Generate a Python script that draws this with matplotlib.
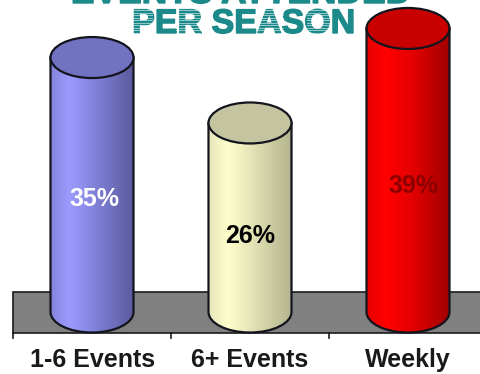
import numpy as np
import matplotlib
matplotlib.use("Agg")
import matplotlib.pyplot as plt
import matplotlib.patheffects as pe
from matplotlib.colors import LinearSegmentedColormap
from matplotlib.patches import Ellipse, PathPatch, Rectangle
from matplotlib.path import Path

# Data
categories = ["1-6 Events", "6+ Events", "Weekly"]
percents = [35, 26, 39]
percent_labels = ["35%", "26%", "39%"]
title_lines = ["EVENTS ATTENDED", "PER SEASON"]

# Styles
side_colors = [
    ["#8484dc", "#9c9cff", "#8080d8", "#5a5a9c"],
    ["#e6e6bc", "#ffffcc", "#e0e0b4", "#b4b48e"],
    ["#e80000", "#ff0000", "#e40000", "#a00000"],
]
top_colors = ["#7272c2", "#c4c4a0", "#c80000"]
label_colors = ["white", "black", "#8c0000"]
label_px = [(94, 199), (250, 236), (413, 186)]
teal = "#1c8a8a"

PX_X = 158.0   # pixels per category
PX_Y = 7.27    # pixels per percent
half_w = 41.5 / PX_X
half_h = 20.5 / PX_Y

fig = plt.figure(figsize=(4.8, 3.74), dpi=100)
ax = fig.add_axes([0, 0, 1, 1])
ax.set_xlim(-92 / PX_X, (480 - 92) / PX_X)
ax.set_ylim(-62 / PX_Y, 312 / PX_Y)
ax.axis("off")

floor_left = -79 / PX_X
floor_right = 3
floor_bottom = -half_h
floor_top = half_h

# grey floor with base axis and ticks
ax.add_patch(Rectangle((floor_left, floor_bottom), floor_right - floor_left, floor_top - floor_bottom,
                       facecolor="#808080", edgecolor="#1a1a1a", lw=1.2, zorder=1))
for x in [floor_left, 0.5, 1.5]:
    ax.plot([x, x], [floor_bottom - 0.8, floor_bottom], color="#1a1a1a", lw=1.2, zorder=1)

# pixel positions of the text, measured from the top left
to_axes = lambda px, py: (px / 480, 1 - py / 374)

# cylinders
for i, val in enumerate(percents):
    x0, x1 = i - half_w, i + half_w
    k = 0.5523
    verts = [(x0, val), (x0, 0),
             (x0, -half_h * k), (i - half_w * k, -half_h), (i, -half_h),
             (i + half_w * k, -half_h), (x1, -half_h * k), (x1, 0),
             (x1, val), (x0, val)]
    codes = [Path.MOVETO, Path.LINETO, Path.CURVE4, Path.CURVE4, Path.CURVE4,
             Path.CURVE4, Path.CURVE4, Path.CURVE4, Path.LINETO, Path.CLOSEPOLY]
    body = PathPatch(Path(verts, codes), facecolor="none", edgecolor="none", zorder=2)
    ax.add_patch(body)
    cmap = LinearSegmentedColormap.from_list(
        "side", list(zip([0, 0.22, 0.55, 1], side_colors[i])))
    im = ax.imshow(np.linspace(0, 1, 128).reshape(1, -1), cmap=cmap, aspect="auto",
                   extent=(x0, x1, -half_h, val), zorder=2)
    im.set_clip_path(body)
    ax.add_patch(PathPatch(Path(verts, codes), facecolor="none", edgecolor="#14141e", lw=1.6, zorder=3))
    ax.add_patch(Ellipse((i, val), 2 * half_w, 2 * half_h, facecolor=top_colors[i],
                         edgecolor="#14141e", lw=1.6, zorder=4))
    ax.text(*to_axes(*label_px[i]), percent_labels[i], transform=ax.transAxes,
            color=label_colors[i], ha="center", va="center", family="Liberation Sans",
            fontweight="bold", fontsize=18, zorder=5)
    ax.text(i + (0.003 if i == 0 else 0), -48 / PX_Y, categories[i], color="#1a1a1a", ha="center", va="center",
            family="Liberation Sans", fontweight="bold", fontsize=18, zorder=5)

# title, first line runs off the top of the picture
heavy = [pe.withStroke(linewidth=1.0, foreground=teal)]
ax.text(*to_axes(241, 3), title_lines[0], transform=ax.transAxes, color=teal, ha="center", va="baseline",
        family="Liberation Sans", fontweight="bold", fontsize=25.5, zorder=1, path_effects=heavy)
ax.text(*to_axes(243.5, 33), title_lines[1], transform=ax.transAxes, color=teal, ha="center", va="baseline",
        family="Liberation Sans", fontweight="bold", fontsize=24.5, zorder=1, path_effects=heavy)

# light stripes over the faded letters of the second line
for left, right in [(132, 152), (176, 200), (257, 283), (307, 330)]:
    for py in np.arange(10, 35, 2.5):
        p0 = to_axes(left, py)
        p1 = to_axes(right, py)
        ax.plot([p0[0], p1[0]], [p0[1], p1[1]], transform=ax.transAxes,
                color="white", lw=0.7, alpha=0.55, zorder=1.5)

fig.savefig("out.png", dpi=100)
